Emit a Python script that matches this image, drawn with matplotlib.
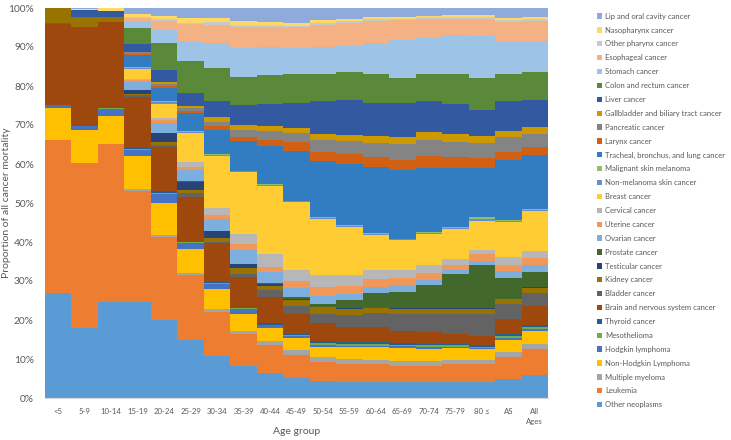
import numpy as np
import matplotlib
matplotlib.use("Agg")
import matplotlib.pyplot as plt
from matplotlib.patches import Patch
from matplotlib.ticker import FuncFormatter

plt.rcParams['font.family'] = ['Lato', 'DejaVu Sans']

ages = ["<5", "5-9", "10-14", "15-19", "20-24", "25-29", "30-34", "35-39", "40-44",
        "45-49", "50-54", "55-59", "60-64", "65-69", "70-74", "75-79", "80 \u2264",
        "AS", "All\nAges"]

# series listed bottom -> top of the stack (share of cancer deaths, %)
other_neoplasms = [26.8, 17.9, 24.7, 24.4, 20.0, 14.7, 10.9, 8.1, 6.5, 5.2, 4.3, 4.1, 4.1, 4.1, 4.1, 4.1, 4.1, 4.9, 6.0]
leukemia = [39.2, 42.5, 40.4, 28.3, 21.2, 16.7, 11.1, 8.4, 7.0, 5.7, 4.9, 4.7, 4.5, 4.2, 4.2, 4.5, 4.7, 5.6, 6.6]
multiple_myeloma = [0.1, 0.1, 0.1, 0.4, 0.4, 0.6, 0.8, 0.8, 1.0, 1.3, 1.3, 1.3, 1.2, 1.3, 1.3, 1.2, 1.0, 1.2, 1.3]
non_hodgkin = [8.3, 8.3, 7.2, 8.4, 8.1, 6.0, 5.2, 4.3, 3.4, 3.2, 2.5, 2.9, 3.2, 3.3, 3.1, 3.0, 2.7, 3.2, 3.4]
hodgkin = [0.6, 1.0, 1.9, 1.5, 2.4, 1.5, 1.4, 1.2, 0.7, 0.6, 0.6, 0.4, 0.4, 0.4, 0.4, 0.4, 0.3, 0.5, 0.5]
mesothelioma = [0.0, 0.0, 0.1, 0.2, 0.3, 0.2, 0.2, 0.2, 0.2, 0.2, 0.4, 0.4, 0.4, 0.4, 0.4, 0.3, 0.3, 0.4, 0.4]
thyroid = [0.1, 0.1, 0.1, 0.2, 0.3, 0.2, 0.2, 0.2, 0.4, 0.2, 0.6, 0.5, 0.5, 0.4, 0.4, 0.4, 0.4, 0.5, 0.6]
brain = [20.8, 25.5, 21.9, 13.2, 11.4, 11.5, 9.9, 7.9, 6.6, 5.2, 4.6, 4.0, 3.9, 3.2, 3.0, 2.6, 2.3, 4.0, 4.7]
bladder = [0.1, 0.0, 0.0, 0.3, 0.5, 0.8, 0.5, 0.8, 1.8, 1.9, 2.4, 2.9, 3.5, 4.3, 4.7, 5.1, 5.8, 3.7, 3.4]
kidney = [3.9, 2.6, 1.3, 0.4, 0.7, 0.9, 1.0, 1.4, 1.2, 1.7, 1.7, 1.7, 1.4, 1.3, 1.3, 1.3, 1.3, 1.4, 1.4]
testicular = [0.0, 0.0, 0.0, 0.9, 2.2, 2.1, 1.7, 1.0, 0.4, 0.2, 0.1, 0.1, 0.1, 0.1, 0.1, 0.1, 0.1, 0.1, 0.1]
prostate = [0.0, 0.0, 0.0, 0.1, 0.1, 0.1, 0.1, 0.1, 0.2, 0.4, 0.7, 2.1, 3.8, 4.2, 5.9, 8.7, 11.2, 5.3, 3.9]
ovarian = [0.0, 0.0, 0.0, 2.1, 2.6, 2.8, 3.0, 3.6, 2.9, 2.5, 2.0, 1.5, 1.4, 1.7, 1.5, 1.0, 0.9, 1.7, 1.7]
uterine = [0.0, 0.0, 0.0, 0.5, 0.6, 0.8, 0.9, 1.4, 1.4, 1.6, 2.3, 2.1, 2.0, 2.0, 1.7, 1.5, 1.7, 1.7, 1.9]
cervical = [0.0, 0.0, 0.0, 0.2, 0.6, 1.2, 2.0, 2.7, 3.3, 3.0, 3.1, 2.8, 2.4, 1.9, 2.0, 1.5, 1.2, 1.9, 1.9]
breast = [0.0, 0.0, 0.0, 2.5, 3.7, 7.5, 13.4, 15.8, 17.4, 17.3, 14.5, 12.4, 9.0, 7.7, 8.1, 7.7, 7.3, 9.0, 10.2]
non_melanoma_skin = [0.0, 0.0, 0.0, 0.3, 0.35, 0.3, 0.2, 0.2, 0.2, 0.2, 0.2, 0.2, 0.2, 0.2, 0.25, 0.25, 0.6, 0.25, 0.25]
melanoma = [0.0, 0.0, 0.0, 0.3, 0.35, 0.3, 0.2, 0.2, 0.2, 0.2, 0.2, 0.2, 0.2, 0.2, 0.25, 0.25, 0.4, 0.25, 0.25]
lung = [0.0, 0.0, 0.0, 2.9, 3.2, 4.4, 6.2, 7.5, 9.9, 12.8, 14.4, 15.8, 17.0, 17.7, 16.4, 15.2, 12.7, 15.3, 13.9]
larynx = [0.0, 0.0, 0.0, 0.3, 0.5, 0.5, 0.9, 1.2, 1.5, 2.2, 2.3, 2.4, 2.6, 2.5, 3.1, 2.8, 2.5, 2.3, 2.0]
pancreatic = [0.0, 0.0, 0.0, 0.4, 0.7, 0.8, 1.1, 1.7, 2.2, 2.3, 3.2, 3.4, 3.6, 4.0, 4.1, 3.7, 3.8, 3.6, 3.3]
gallbladder = [0.0, 0.0, 0.0, 0.2, 0.5, 0.6, 1.3, 1.4, 1.3, 1.3, 1.5, 1.5, 1.7, 1.8, 1.9, 2.1, 2.0, 1.6, 1.7]
liver = [0.0, 1.7, 1.7, 1.9, 3.0, 3.4, 4.1, 4.9, 5.7, 6.4, 8.5, 9.1, 8.6, 8.8, 8.1, 7.7, 6.5, 7.7, 7.0]
colon_rectum = [0.0, 0.0, 0.0, 4.0, 6.8, 8.1, 8.5, 7.4, 7.4, 7.5, 6.9, 7.1, 7.5, 6.5, 6.9, 7.7, 8.3, 7.1, 7.1]
stomach = [0.0, 0.0, 0.0, 1.8, 3.4, 5.1, 6.3, 7.3, 7.3, 6.6, 7.0, 6.8, 7.8, 9.7, 9.4, 10.1, 10.8, 8.4, 8.1]
esophageal = [0.0, 0.0, 0.0, 0.8, 2.4, 4.3, 4.8, 5.3, 5.1, 5.3, 5.6, 5.8, 5.6, 5.1, 4.6, 4.1, 4.4, 4.7, 5.0]
other_pharynx = [0.0, 0.0, 0.0, 0.3, 0.3, 0.4, 0.6, 0.7, 0.5, 0.5, 0.5, 0.5, 0.5, 0.4, 0.5, 0.4, 0.4, 0.5, 0.5]
nasopharynx = [0.0, 0.3, 0.7, 0.9, 0.9, 1.1, 1.1, 1.0, 0.7, 0.7, 0.8, 0.6, 0.5, 0.5, 0.4, 0.4, 0.4, 0.6, 0.5]
lip_oral = [0.0, 0.2, 0.0, 1.4, 2.0, 2.6, 2.6, 3.3, 3.6, 3.8, 3.0, 2.8, 2.4, 2.2, 2.0, 1.9, 1.9, 2.6, 2.4]

series = [
    ("Other neoplasms", other_neoplasms, "#5B9BD5"),
    ("Leukemia", leukemia, "#ED7D31"),
    ("Multiple myeloma", multiple_myeloma, "#A5A5A5"),
    ("Non-Hodgkin Lymphoma", non_hodgkin, "#FFC000"),
    ("Hodgkin lymphoma", hodgkin, "#4472C4"),
    ("Mesothelioma", mesothelioma, "#70AD47"),
    ("Thyroid cancer", thyroid, "#255E91"),
    ("Brain and nervous system cancer", brain, "#9E480E"),
    ("Bladder cancer", bladder, "#636363"),
    ("Kidney cancer", kidney, "#997300"),
    ("Testicular cancer", testicular, "#264478"),
    ("Prostate cancer", prostate, "#43682B"),
    ("Ovarian cancer", ovarian, "#7CAFDD"),
    ("Uterine cancer", uterine, "#F1975A"),
    ("Cervical cancer", cervical, "#B7B7B7"),
    ("Breast cancer", breast, "#FFCD33"),
    ("Non-melanoma skin cancer", non_melanoma_skin, "#698ED0"),
    ("Malignant skin melanoma", melanoma, "#8CC168"),
    ("Tracheal, bronchus, and lung cancer", lung, "#327DC2"),
    ("Larynx cancer", larynx, "#D26012"),
    ("Pancreatic cancer", pancreatic, "#848484"),
    ("Gallbladder and biliary tract cancer", gallbladder, "#CC9A00"),
    ("Liver cancer", liver, "#335AA1"),
    ("Colon and rectum cancer", colon_rectum, "#5A8A39"),
    ("Stomach cancer", stomach, "#9DC3E6"),
    ("Esophageal cancer", esophageal, "#F4B183"),
    ("Other pharynx cancer", other_pharynx, "#C9C9C9"),
    ("Nasopharynx cancer", nasopharynx, "#FFD966"),
    ("Lip and oral cavity cancer", lip_oral, "#8FAADC"),
]

vals = np.array([s[1] for s in series], dtype=float)
vals = vals / vals.sum(axis=0) * 100  # 100% stacked

fig = plt.figure(figsize=(7.31, 4.40), dpi=100)
ax = fig.add_axes([45 / 731, 42 / 440, 503 / 731, 390 / 440])

x = np.arange(len(ages))
bottom = np.zeros(len(ages))
handles = []
for (name, _, col), v in zip(series, vals):
    ax.bar(x, v, width=1.0, bottom=bottom, color=col, linewidth=0)
    bottom += v
    handles.append(Patch(facecolor=col, label=name))

txt = "#595959"
ax.set_xlim(-0.5, len(ages) - 0.5)
ax.set_ylim(0, 100)
ax.set_yticks(np.arange(0, 101, 10))
ax.yaxis.set_major_formatter(FuncFormatter(lambda v, p: f"{v:.0f}%"))
ax.set_xticks(x)
ax.set_xticklabels(ages, fontsize=5.6, color=txt, linespacing=1.6)
ax.tick_params(axis='y', labelsize=7.3, colors=txt, length=0, pad=8)
ax.tick_params(axis='x', length=0, pad=7)
for s in ['top', 'right', 'left']:
    ax.spines[s].set_visible(False)
ax.spines['bottom'].set_color("#D9D9D9")
ax.set_xlabel("Age group", fontsize=7.5, color=txt, labelpad=1)
fig.text(7 / 731, 1 - 203 / 440, "Proportion of all cancer mortality", rotation=90,
         ha='center', va='center', fontsize=7.5, color=txt)

fig.legend(handles=handles[::-1], loc='upper left', bbox_to_anchor=(0.812, 0.978),
           frameon=False, fontsize=5.5, handlelength=0.7, handleheight=0.7,
           handletextpad=0.45, labelspacing=0.9, labelcolor=txt, borderaxespad=0)

fig.savefig("out.png", dpi=100)
